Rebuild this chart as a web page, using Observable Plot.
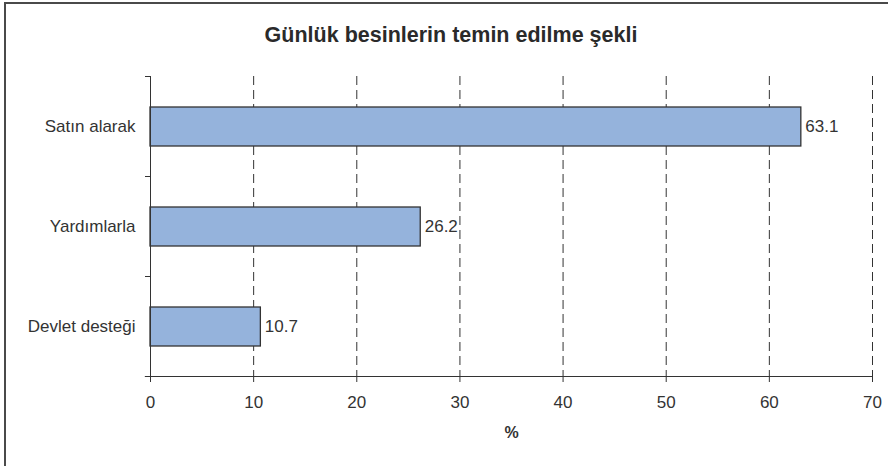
<!DOCTYPE html>
<html>
<head>
<meta charset="utf-8">
<script src="https://cdn.jsdelivr.net/npm/d3@7"></script>
<script src="https://cdn.jsdelivr.net/npm/@observablehq/plot@0.6"></script>
<style>
  html, body { margin: 0; padding: 0; background: #fff; }
  #wrap { position: relative; width: 888px; height: 466px; overflow: hidden; font-family: "Liberation Sans", Arial, sans-serif; }
  #frame { position: absolute; left: 4px; top: 2px; width: 900px; height: 480px; border: 2px solid #4a4a4a; box-sizing: border-box; }
  #title { position: absolute; left: 7px; width: 888px; top: 23px; line-height: 24px; text-align: center; font-weight: bold; font-size: 21.5px; color: #2a2a2a; }
  #chart { position: absolute; left: 0; top: 0; }
</style>
</head>
<body>
<div id="wrap">
  <div id="frame"></div>
  <div id="chart"></div>
  <div id="title">Günlük besinlerin temin edilme şekli</div>
</div>
<script>
const categories = ["Satın alarak", "Yardımlarla", "Devlet desteği"];
const values = [63.1, 26.2, 10.7];
const xTicks = [0, 10, 20, 30, 40, 50, 60, 70];
const axisTitle = "%";

const data = categories.map((c, i) => ({category: c, value: values[i], idx: i}));
const ink = "#333";
const fs = 17;

const chart = Plot.plot({
  width: 888,
  height: 466,
  marginLeft: 150,
  marginRight: 16,
  marginTop: 76,
  marginBottom: 90,
  style: {fontFamily: "'Liberation Sans', Arial, sans-serif", fontSize: fs + "px", color: ink, background: "transparent"},
  x: {domain: [0, 70]},
  y: {domain: [0, categories.length], range: [76, 376]},
  marks: [
    // dashed vertical gridlines
    Plot.ruleX(xTicks.filter(t => t > 0), {stroke: "#333", strokeWidth: 1, strokeDasharray: "9,5"}),
    // bars
    Plot.rectX(data, {x1: 0, x2: "value", y1: d => d.idx + 0.31, y2: d => d.idx + 0.70, fill: "#95b3dc", stroke: "#333", strokeWidth: 1.3}),
    // value labels
    Plot.text(data, {x: "value", y: d => d.idx + 0.505, text: d => d.value.toFixed(1), textAnchor: "start", dx: 4, fill: ink, fontSize: fs}),
    // y axis line
    Plot.ruleX([0], {stroke: "#333", strokeWidth: 1}),
    // y boundary ticks
    Plot.axisY(d3.range(categories.length + 1), {tickSize: 5, tickFormat: () => "", stroke: "#333", label: null}),
    // category labels
    Plot.axisY(categories.map((c, i) => i + 0.5), {tickSize: 0, tickPadding: 15, tickFormat: v => categories[Math.floor(v)], fill: ink, fontSize: fs, label: null}),
    // x axis
    Plot.axisX(xTicks, {tickSize: 6, tickPadding: 13, stroke: "#333", fill: ink, fontSize: fs, label: null}),
    Plot.ruleY([categories.length], {x1: -0.5, x2: 70, stroke: "#333", strokeWidth: 1}),
    // x axis title
    Plot.text([axisTitle], {frameAnchor: "bottom", dy: 61, fontSize: 16, fontWeight: "bold", fill: ink})
  ]
});
document.getElementById("chart").appendChild(chart);
</script>
</body>
</html>
